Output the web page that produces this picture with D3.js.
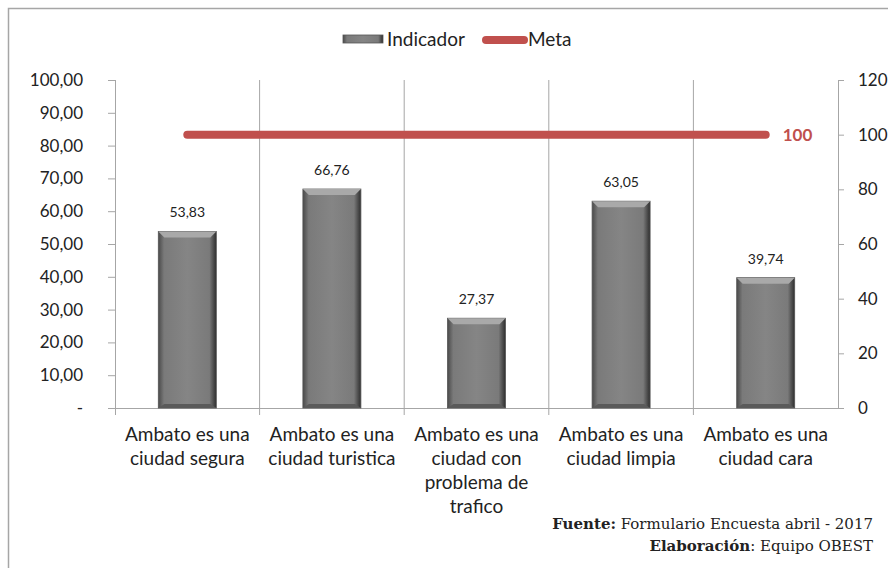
<!DOCTYPE html>
<html>
<head>
<meta charset="utf-8">
<script src="https://cdn.jsdelivr.net/npm/d3@7"></script>
<style>
  body { margin: 0; background: #fff; }
  svg { display: block; }
  text { font-family: Lato, "Noto Sans", sans-serif; fill: #222; }
  text.foot { font-family: "DejaVu Serif", "Liberation Serif", serif; font-size: 15px; }
</style>
</head>
<body>
<div id="chart"></div>
<script>
var categories = [
    ["Ambato es una", "ciudad segura"],
    ["Ambato es una", "ciudad turistica"],
    ["Ambato es una", "ciudad con", "problema de", "trafico"],
    ["Ambato es una", "ciudad limpia"],
    ["Ambato es una", "ciudad cara"]
];
var indicador = [53.83, 66.76, 27.37, 63.05, 39.74];
var meta = [100, 100, 100, 100, 100];
var leftTicks = [0, 10, 20, 30, 40, 50, 60, 70, 80, 90, 100];
var rightTicks = [0, 20, 40, 60, 80, 100, 120];

var W = 888, H = 568;
var margin = {top: 80, right: 50, bottom: 160, left: 115},
    width = 838 - margin.left,
    height = 408 - margin.top;

var svg = d3.select("#chart").append("svg")
    .attr("width", W)
    .attr("height", H);

// outer frame
svg.append("path")
    .attr("d", "M8.5," + H + "V8.5H" + W)
    .attr("fill", "none")
    .attr("stroke", "#a6a6a6")
    .attr("stroke-width", 1.5);

var defs = svg.append("defs");
var grad = defs.append("linearGradient").attr("id", "barGrad")
    .attr("x1", "0").attr("x2", "1").attr("y1", "0").attr("y2", "0");
grad.append("stop").attr("offset", "0").attr("stop-color", "#4a4a4a");
grad.append("stop").attr("offset", "0.1").attr("stop-color", "#7a7a7a");
grad.append("stop").attr("offset", "0.5").attr("stop-color", "#858585");
grad.append("stop").attr("offset", "0.88").attr("stop-color", "#7a7a7a");
grad.append("stop").attr("offset", "1").attr("stop-color", "#2e2e2e");

var g = svg.append("g")
    .attr("transform", "translate(" + margin.left + "," + margin.top + ")");

var idx = d3.range(categories.length);

var x = d3.scaleBand()
    .domain(idx)
    .range([0, width])
    .paddingInner(0)
    .paddingOuter(0);

var y = d3.scaleLinear().domain([0, 100]).range([height, 0]);
var y2 = d3.scaleLinear().domain([0, 120]).range([height, 0]);

// vertical grid lines between categories
g.append("g").selectAll("line")
    .data(idx.slice(1))
    .join("line")
    .attr("x1", function(d) { return x(d); })
    .attr("x2", function(d) { return x(d); })
    .attr("y1", 0)
    .attr("y2", height + 7)
    .attr("stroke", "#a6a6a6")
    .attr("stroke-width", 1);

// left axis
var fmt = function(d) { return d === 0 ? "-" : d3.format(".2f")(d).replace(".", ","); };
var yAxis = g.append("g")
    .call(d3.axisLeft(y).tickValues(leftTicks).tickFormat(fmt).tickSizeOuter(0).tickSize(7).tickPadding(6));
yAxis.select(".domain").attr("stroke", "#a6a6a6").attr("d", "M0.5,0V" + (height + 7));
yAxis.selectAll(".tick line").attr("stroke", "#a6a6a6");
yAxis.selectAll(".tick text").style("font-size", "17px").attr("fill", "#222").attr("x", -32);

// right axis
var y2Axis = g.append("g")
    .attr("transform", "translate(" + width + ",0)")
    .call(d3.axisRight(y2).tickValues(rightTicks).tickSizeOuter(0).tickSize(6).tickPadding(14));
y2Axis.select(".domain").attr("stroke", "#a6a6a6");
y2Axis.selectAll(".tick line").attr("stroke", "#a6a6a6");
y2Axis.selectAll(".tick text").style("font-size", "17px").attr("fill", "#222");

// baseline
g.append("line")
    .attr("x1", -7).attr("x2", width + 6)
    .attr("y1", height + 0.5).attr("y2", height + 0.5)
    .attr("stroke", "#a6a6a6");

// bars
var barW = 58;
var bars = g.append("g").selectAll("g.bar")
    .data(indicador)
    .join("g")
    .attr("class", "bar");

bars.append("rect")
    .attr("x", function(d, i) { return x(i) + x.bandwidth() / 2 - barW / 2; })
    .attr("y", function(d) { return y(d); })
    .attr("width", barW)
    .attr("height", function(d) { return height - y(d); })
    .attr("fill", "url(#barGrad)")
    .attr("stroke", "#555")
    .attr("stroke-width", 0.8);

// top bevel
bars.append("path")
    .attr("d", function(d, i) {
        var x0 = x(i) + x.bandwidth() / 2 - barW / 2, y0 = y(d);
        return "M" + x0 + "," + y0 + "h" + barW + "l-6,6h" + (-(barW - 12)) + "z";
    })
    .attr("fill", "#a9a9a9");

// bottom bevel
bars.append("path")
    .attr("d", function(d, i) {
        var x0 = x(i) + x.bandwidth() / 2 - barW / 2, y0 = height;
        return "M" + x0 + "," + y0 + "h" + barW + "l-6,-4h" + (-(barW - 12)) + "z";
    })
    .attr("fill", "#5a5a5a");

// data labels
g.append("g").selectAll("text")
    .data(indicador)
    .join("text")
    .attr("x", function(d, i) { return x(i) + x.bandwidth() / 2; })
    .attr("y", function(d) { return y(d) - 14; })
    .attr("text-anchor", "middle")
    .style("font-size", "14px")
    .text(function(d) { return d3.format(".2f")(d).replace(".", ","); });

// meta line
var line = d3.line()
    .x(function(d, i) { return x(i) + x.bandwidth() / 2; })
    .y(function(d) { return y2(d); });

g.append("path")
    .datum(meta)
    .attr("d", line)
    .attr("fill", "none")
    .attr("stroke", "#c0504d")
    .attr("stroke-width", 8)
    .attr("stroke-linecap", "round");

g.append("text")
    .attr("x", x(meta.length - 1) + x.bandwidth() / 2 + 17)
    .attr("y", y2(meta[meta.length - 1]))
    .attr("dy", "0.35em")
    .style("font-size", "17px")
    .style("font-weight", "bold")
    .style("fill", "#c0504d")
    .text(meta[meta.length - 1]);

// category labels
var cat = g.append("g").selectAll("text")
    .data(categories)
    .join("text")
    .attr("x", function(d, i) { return x(i) + x.bandwidth() / 2; })
    .attr("y", height + 33)
    .attr("text-anchor", "middle")
    .style("font-size", "19px");
cat.selectAll("tspan")
    .data(function(d) { return d; })
    .join("tspan")
    .attr("x", function() { return d3.select(this.parentNode).attr("x"); })
    .attr("dy", function(d, i) { return i === 0 ? 0 : 24; })
    .text(function(d) { return d; });

// legend
var leg = svg.append("g").attr("transform", "translate(343,39)");
leg.append("rect")
    .attr("x", 0).attr("y", -4).attr("width", 40).attr("height", 8)
    .attr("fill", "url(#barGrad)").attr("stroke", "#555").attr("stroke-width", 0.8);
leg.append("text").attr("x", 44).attr("y", 0).attr("dy", "0.35em")
    .style("font-size", "19px").text("Indicador");
leg.append("line")
    .attr("x1", 143).attr("x2", 181).attr("y1", 1).attr("y2", 1)
    .attr("stroke", "#c0504d").attr("stroke-width", 8).attr("stroke-linecap", "round");
leg.append("text").attr("x", 185).attr("y", 0).attr("dy", "0.35em")
    .style("font-size", "19px").text("Meta");

// footer
var f1 = svg.append("text").attr("class", "foot").attr("x", 873).attr("y", 529).attr("text-anchor", "end");
f1.append("tspan").style("font-weight", "bold").text("Fuente:");
f1.append("tspan").text(" Formulario Encuesta abril - 2017");
var f2 = svg.append("text").attr("class", "foot").attr("x", 873).attr("y", 551).attr("text-anchor", "end");
f2.append("tspan").style("font-weight", "bold").text("Elaboración");
f2.append("tspan").text(": Equipo OBEST");
</script>
</body>
</html>
